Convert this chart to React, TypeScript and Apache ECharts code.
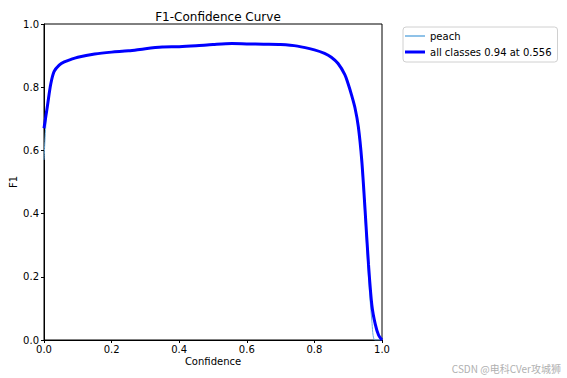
import React, { useEffect, useRef } from "react";
import * as echarts from "echarts";

const allConf = [0, 0.01, 0.02, 0.03, 0.045, 0.06, 0.08, 0.1, 0.15, 0.2, 0.25, 0.3, 0.35, 0.4, 0.45, 0.5, 0.556, 0.6, 0.65, 0.7, 0.75, 0.8, 0.83, 0.85, 0.87, 0.89, 0.9, 0.91, 0.92, 0.93, 0.94, 0.95, 0.96, 0.97, 0.98, 0.99, 1.0];
const allF1 = [0.67, 0.74, 0.81, 0.85, 0.87, 0.88, 0.888, 0.895, 0.905, 0.911, 0.915, 0.922, 0.927, 0.928, 0.931, 0.935, 0.938, 0.937, 0.936, 0.935, 0.93, 0.918, 0.907, 0.895, 0.875, 0.84, 0.81, 0.775, 0.735, 0.675, 0.57, 0.41, 0.24, 0.11, 0.05, 0.015, 0.0];

const peachConf = [0, 0.008, 0.018, 0.03, 0.045, 0.06, 0.08, 0.1, 0.15, 0.2, 0.25, 0.3, 0.35, 0.4, 0.45, 0.5, 0.556, 0.6, 0.65, 0.7, 0.75, 0.8, 0.83, 0.85, 0.87, 0.89, 0.9, 0.91, 0.92, 0.93, 0.94, 0.95, 0.96, 0.97, 0.979, 1.0];
const peachF1 = [0.57, 0.72, 0.8, 0.845, 0.87, 0.88, 0.888, 0.895, 0.905, 0.911, 0.915, 0.922, 0.927, 0.928, 0.931, 0.935, 0.938, 0.937, 0.936, 0.935, 0.93, 0.918, 0.907, 0.895, 0.875, 0.84, 0.81, 0.775, 0.735, 0.67, 0.55, 0.38, 0.2, 0.06, 0.0, 0.0];

const seriesNames = ["peach", "all classes 0.94 at 0.556"];

const FONT = "DejaVu Sans";

export default function App() {
  const ref = useRef<HTMLDivElement>(null);
  useEffect(() => {
    if (!ref.current) return;
    const chart = echarts.init(ref.current, null, { renderer: "svg" });
    const axisCommon = {
      type: "value" as const,
      min: 0,
      max: 1,
      interval: 0.2,
      axisLine: { show: true, onZero: false, lineStyle: { color: "#000", width: 1 } },
      axisTick: { show: true, inside: false, length: 3, lineStyle: { color: "#000" } },
      splitLine: { show: false },
      axisLabel: {
        color: "#000",
        fontFamily: FONT,
        fontSize: 10,
        formatter: (v: number) => v.toFixed(1),
      },
      nameTextStyle: { color: "#000", fontFamily: FONT, fontSize: 10 },
      nameMoveOverlap: false,
    };
    chart.setOption({
      animation: false,
      backgroundColor: "#fff",
      title: {
        text: "F1-Confidence Curve",
        left: 213,
        textAlign: "center",
        top: 6,
        textStyle: { fontFamily: FONT, fontSize: 12, fontWeight: "normal", color: "#000" },
      },
      grid: {
        left: 44,
        right: 185,
        top: 24,
        bottom: 38,
        containLabel: false,
        outerBoundsMode: "none",
        show: true,
        borderColor: "#000",
        borderWidth: 1,
      },
      xAxis: {
        ...axisCommon,
        name: "Confidence",
        nameLocation: "middle",
        nameGap: 16,
        axisLabel: { ...axisCommon.axisLabel, margin: 4 },
      },
      yAxis: {
        ...axisCommon,
        name: "F1",
        nameLocation: "middle",
        nameGap: 26,
        nameRotate: 90,
        axisLabel: { ...axisCommon.axisLabel, margin: 5 },
      },
      legend: {
        orient: "vertical",
        left: 403,
        top: 27,
        itemWidth: 20,
        itemHeight: 10,
        itemGap: 6,
        padding: [4, 6, 5, 2],
        borderColor: "#d0d0d0",
        borderWidth: 1,
        borderRadius: 3,
        textStyle: { fontFamily: FONT, fontSize: 10, color: "#000" },
        data: [
          { name: seriesNames[0], icon: "path://M0,0H20V1.5H0Z" },
          { name: seriesNames[1], icon: "path://M0,0H20V3H0Z" },
        ],
      },
      series: [
        {
          name: seriesNames[0],
          type: "line",
          symbol: "none",
          smooth: 0.3,
          lineStyle: { color: "#6aaee0", width: 1 },
          itemStyle: { color: "#6aaee0" },
          data: peachConf.map((c, i) => [c, peachF1[i]]),
        },
        {
          name: seriesNames[1],
          type: "line",
          symbol: "none",
          smooth: 0.3,
          lineStyle: { color: "#0000ff", width: 3 },
          itemStyle: { color: "#0000ff" },
          data: allConf.map((c, i) => [c, allF1[i]]),
        },
      ],
      graphic: [
        {
          type: "text",
          right: 6,
          bottom: 5,
          style: {
            text: "CSDN @电科CVer攻城狮",
            fill: "#b0b0b0",
            fontSize: 10,
            fontFamily: "Noto Sans CJK SC",
          },
        },
      ],
    });
    return () => chart.dispose();
  }, []);
  return (
    <div
      ref={ref}
      style={{ position: "fixed", left: 0, top: 0, width: 567, height: 378 }}
    />
  );
}
